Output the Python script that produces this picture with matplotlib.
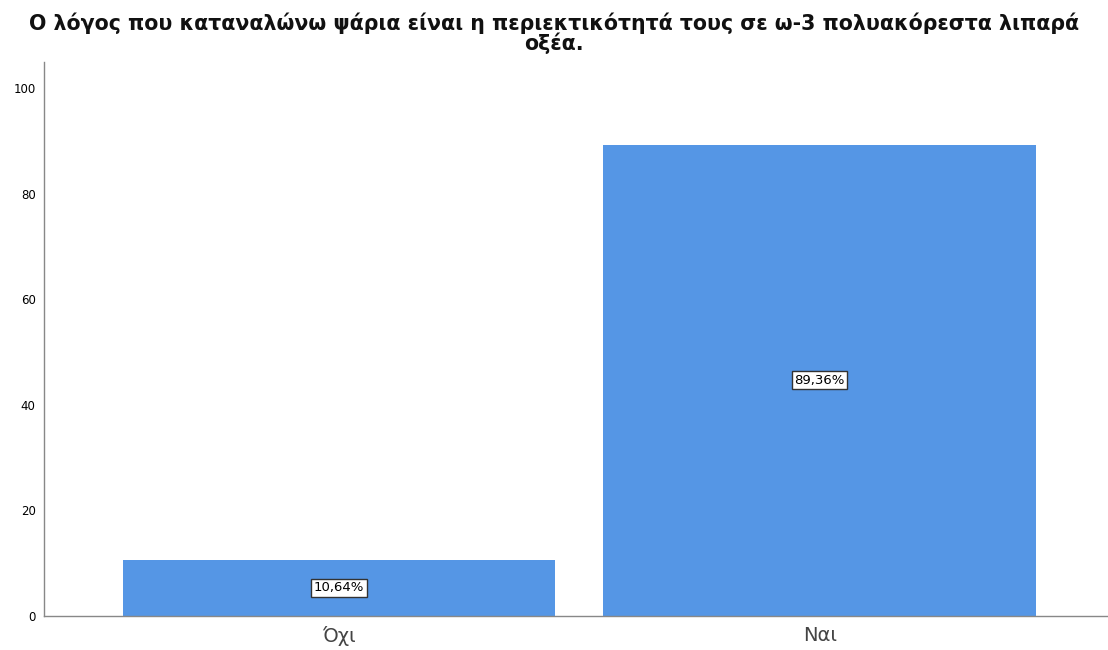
import matplotlib.pyplot as plt

categories = ['Όχι', 'Ναι']
percents = [10.64, 89.36]
pct_labels = ['10,64%', '89,36%']
title = 'Ο λόγος που καταναλώνω ψάρια είναι η περιεκτικότητά τους σε ω-3 πολυακόρεστα λιπαρά\nοξέα.'

fig = plt.figure(figsize=(11.08, 6.5), dpi=100)
ax = fig.add_axes([0.0397, 0.0523, 0.9603, 0.8523])

x = range(len(categories))
ax.bar(x, percents, width=0.9, color='#5596e5', zorder=2)

for xi, v, lab in zip(x, percents, pct_labels):
    ax.text(xi, v / 2, lab, ha='center', va='center', fontsize=9.5,
            bbox=dict(boxstyle='square,pad=0.2', fc='white', ec='#333333', lw=1))

ax.set_xlim(-0.614, 1.6)
ax.set_ylim(0, 105)
ax.set_yticks([0, 20, 40, 60, 80, 100])
ax.set_xticks(list(x))
ax.set_xticklabels(categories, fontsize=14, color='#444444')
ax.tick_params(axis='y', length=0, labelsize=8.5, pad=6)
ax.tick_params(axis='x', length=0, pad=7)

for s in ['top', 'right']:
    ax.spines[s].set_visible(False)
for s in ['left', 'bottom']:
    ax.spines[s].set_color('#888888')
    ax.spines[s].set_linewidth(1)

fig.text(0.5, 0.98, title, ha='center', va='top', fontsize=14.8,
         fontweight='bold', color='#111111', linespacing=0.88)

fig.savefig('out.png', dpi=100)
